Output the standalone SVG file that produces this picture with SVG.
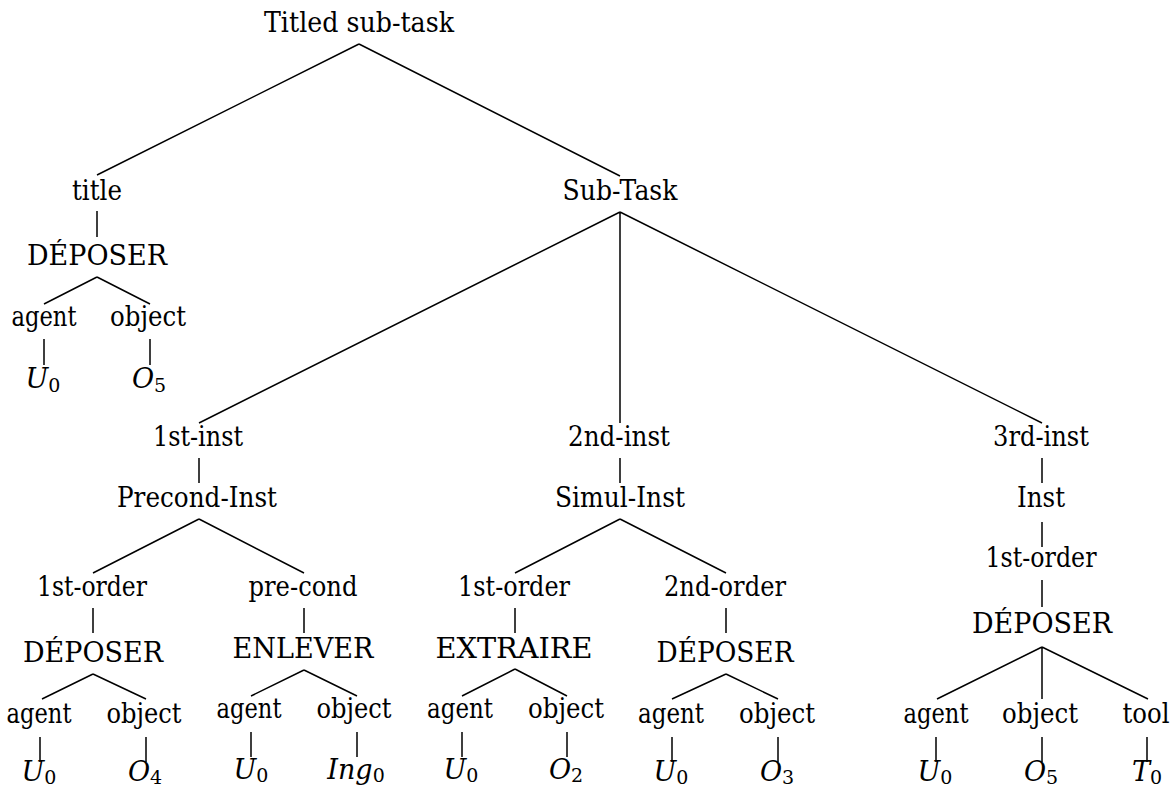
<svg xmlns="http://www.w3.org/2000/svg" width="1173" height="788" viewBox="0 0 1173 788">
<style>
text{font-family:"DejaVu Serif","Liberation Serif",serif;font-size:27px;fill:#000;text-anchor:middle}
.m{font-style:italic}
.s{font-size:19px;font-style:normal}
#connectors path{stroke:#000;stroke-width:1.5;fill:none}
</style>
<rect width="1173" height="788" fill="#fff"/>
<g id="connectors">
<path d="M359,44 L97,175 M359,44 L620,176"/>
<path d="M97,211 V237 M97,277 L44,304 M97,277 L150,304 M44,339 V365 M150,339 V365"/>
<path d="M620,212 L199,423 M620,212 V423 M620,212 L1042,423"/>
<path d="M199,458 V483 M620,458 V483 M1042,458 V483"/>
<path d="M199,519 L93,573 M199,519 L304,573 M620,519 L515,573 M620,519 L726,573"/>
<path d="M1042,522 V547 M1042,580 V607"/>
<path d="M93,608 V633 M304,608 V633 M515,608 V633 M726,608 V633"/>
<path d="M93,674 L42,699 M93,674 L146,699 M304,670 L251,696 M304,670 L357,696"/>
<path d="M515,669 L462,696 M515,669 L567,696 M726,674 L672,699 M726,674 L778,699"/>
<path d="M1042,647 L937,699 M1042,647 V699 M1042,647 L1148,699"/>
<path d="M40,737 V762 M146,737 V762 M251,732 V757 M357,732 V757 M462,732 V757 M567,732 V757 M672,737 V762 M778,737 V762 M936,737 V762 M1042,737 V762 M1147,737 V762"/>
</g>
<g id="root"><text x="359" y="32" textLength="190" lengthAdjust="spacingAndGlyphs">Titled sub-task</text></g>
<g id="title"><text x="97" y="200" textLength="50" lengthAdjust="spacingAndGlyphs">title</text></g>
<g id="subtask"><text x="620" y="200" textLength="115" lengthAdjust="spacingAndGlyphs">Sub-Task</text></g>
<g id="deposer-title"><text x="97" y="265" textLength="140" lengthAdjust="spacingAndGlyphs">DÉPOSER</text></g>
<g id="agent-title"><text x="44" y="326" textLength="65" lengthAdjust="spacingAndGlyphs">agent</text></g>
<g id="object-title"><text x="148" y="326" textLength="76" lengthAdjust="spacingAndGlyphs">object</text></g>
<g id="u0-title"><text x="43" y="388"><tspan class="m">U</tspan><tspan class="s" dy="4">0</tspan></text></g>
<g id="o5-title"><text x="149" y="388"><tspan class="m">O</tspan><tspan class="s" dy="4">5</tspan></text></g>

<g id="inst1"><text x="198" y="446" textLength="90" lengthAdjust="spacingAndGlyphs">1st-inst</text></g>
<g id="inst2"><text x="619" y="446" textLength="102" lengthAdjust="spacingAndGlyphs">2nd-inst</text></g>
<g id="inst3"><text x="1041" y="446" textLength="96" lengthAdjust="spacingAndGlyphs">3rd-inst</text></g>
<g id="precond-inst"><text x="197" y="507" textLength="160" lengthAdjust="spacingAndGlyphs">Precond-Inst</text></g>
<g id="simul-inst"><text x="620" y="507" textLength="130" lengthAdjust="spacingAndGlyphs">Simul-Inst</text></g>
<g id="inst"><text x="1041" y="507" textLength="48" lengthAdjust="spacingAndGlyphs">Inst</text></g>

<g id="order1-a"><text x="92" y="596" textLength="110" lengthAdjust="spacingAndGlyphs">1st-order</text></g>
<g id="precond"><text x="303" y="596" textLength="109" lengthAdjust="spacingAndGlyphs">pre-cond</text></g>
<g id="order1-b"><text x="514" y="596" textLength="112" lengthAdjust="spacingAndGlyphs">1st-order</text></g>
<g id="order2"><text x="725" y="596" textLength="122" lengthAdjust="spacingAndGlyphs">2nd-order</text></g>
<g id="order1-c"><text x="1041" y="567" textLength="111" lengthAdjust="spacingAndGlyphs">1st-order</text></g>

<g id="deposer-a"><text x="93" y="662" textLength="140" lengthAdjust="spacingAndGlyphs">DÉPOSER</text></g>
<g id="enlever"><text x="303" y="658" textLength="141" lengthAdjust="spacingAndGlyphs">ENLEVER</text></g>
<g id="extraire"><text x="514" y="658" textLength="157" lengthAdjust="spacingAndGlyphs">EXTRAIRE</text></g>
<g id="deposer-b"><text x="725" y="662" textLength="137" lengthAdjust="spacingAndGlyphs">DÉPOSER</text></g>
<g id="deposer-c"><text x="1042" y="633" textLength="140" lengthAdjust="spacingAndGlyphs">DÉPOSER</text></g>

<g id="agent-a"><text x="39" y="723" textLength="65" lengthAdjust="spacingAndGlyphs">agent</text></g>
<g id="object-a"><text x="144" y="723" textLength="75" lengthAdjust="spacingAndGlyphs">object</text></g>
<g id="agent-b"><text x="249" y="718" textLength="65" lengthAdjust="spacingAndGlyphs">agent</text></g>
<g id="object-b"><text x="354" y="718" textLength="75" lengthAdjust="spacingAndGlyphs">object</text></g>
<g id="agent-c"><text x="460" y="718" textLength="66" lengthAdjust="spacingAndGlyphs">agent</text></g>
<g id="object-c"><text x="566" y="718" textLength="76" lengthAdjust="spacingAndGlyphs">object</text></g>
<g id="agent-d"><text x="671" y="723" textLength="66" lengthAdjust="spacingAndGlyphs">agent</text></g>
<g id="object-d"><text x="777" y="723" textLength="76" lengthAdjust="spacingAndGlyphs">object</text></g>
<g id="agent-e"><text x="936" y="723" textLength="65" lengthAdjust="spacingAndGlyphs">agent</text></g>
<g id="object-e"><text x="1040" y="723" textLength="76" lengthAdjust="spacingAndGlyphs">object</text></g>
<g id="tool-e"><text x="1146" y="723" textLength="47" lengthAdjust="spacingAndGlyphs">tool</text></g>

<g id="u0-a"><text x="39" y="781"><tspan class="m">U</tspan><tspan class="s" dy="3">0</tspan></text></g>
<g id="o4-a"><text x="145" y="781"><tspan class="m">O</tspan><tspan class="s" dy="3">4</tspan></text></g>
<g id="u0-b"><text x="251" y="779"><tspan class="m">U</tspan><tspan class="s" dy="3">0</tspan></text></g>
<g id="ing0-b"><text x="356" y="779"><tspan class="m">Ing</tspan><tspan class="s" dy="3">0</tspan></text></g>
<g id="u0-c"><text x="461" y="779"><tspan class="m">U</tspan><tspan class="s" dy="3">0</tspan></text></g>
<g id="o2-c"><text x="566" y="779"><tspan class="m">O</tspan><tspan class="s" dy="3">2</tspan></text></g>
<g id="u0-d"><text x="671" y="781"><tspan class="m">U</tspan><tspan class="s" dy="3">0</tspan></text></g>
<g id="o3-d"><text x="777" y="781"><tspan class="m">O</tspan><tspan class="s" dy="3">3</tspan></text></g>
<g id="u0-e"><text x="935" y="781"><tspan class="m">U</tspan><tspan class="s" dy="3">0</tspan></text></g>
<g id="o5-e"><text x="1041" y="781"><tspan class="m">O</tspan><tspan class="s" dy="3">5</tspan></text></g>
<g id="t0-e"><text x="1147" y="781"><tspan class="m">T</tspan><tspan class="s" dy="3">0</tspan></text></g>
</svg>
